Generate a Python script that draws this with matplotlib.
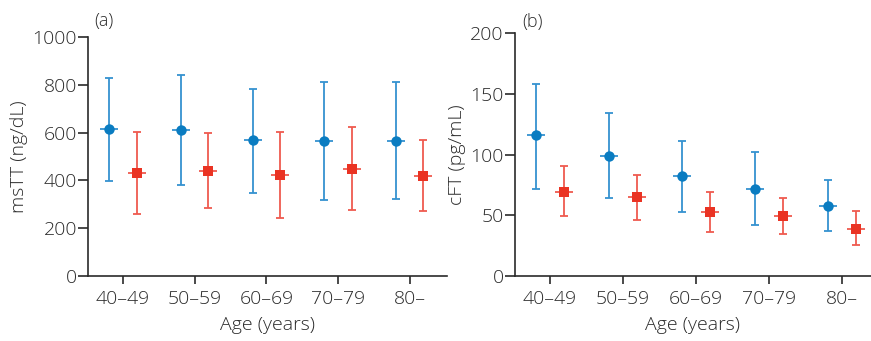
import matplotlib
matplotlib.use("Agg")
import matplotlib.pyplot as plt
import numpy as np

plt.rcParams['font.family'] = ['Open Sans', 'DejaVu Sans']
plt.rcParams['font.weight'] = 'light'
plt.rcParams['axes.labelweight'] = 'light'

categories = ["40\u201349", "50\u201359", "60\u201369", "70\u201379", "80\u2013"]

# Panel (a) msTT
a_blue_mean = [615, 609, 569, 563, 566]
a_blue_hi = [830, 841, 784, 812, 813]
a_blue_lo = [396, 381, 349, 318, 321]
a_red_mean = [432, 441, 424, 448, 420]
a_red_hi = [604, 600, 604, 622, 570]
a_red_lo = [259, 286, 244, 276, 271]

# Panel (b) cFT
b_blue_mean = [116, 99, 82, 72, 58]
b_blue_hi = [158.5, 134, 111.5, 102, 79.4]
b_blue_lo = [72, 64, 53, 42, 37]
b_red_mean = [69, 65, 53, 49.5, 38.7]
b_red_hi = [91, 83.5, 69, 64, 53.3]
b_red_lo = [49.5, 46.4, 36.5, 34.6, 25.5]

BLUE = '#0a7cc1'
BLUE_L = '#3592d0'
RED = '#ea3323'
RED_L = '#ef5a4f'
DARK = '#2a2a2a'

fig = plt.figure(figsize=(8.71, 3.41), dpi=100)
axA = fig.add_axes([88/871, 65/341, (447-88)/871, (276-37)/341])
axB = fig.add_axes([514.7/871, 65/341, (871-514.7)/871, (276-33.3)/341])

off = 0.19
FS = 14

def draw(ax, bm, bh, bl, rm, rh, rl):
    x = np.arange(len(categories))
    for xs, m, h, l, c, cl, mk, ms in [
        (x - off, bm, bh, bl, BLUE, BLUE_L, 'o', 7.5),
        (x + off, rm, rh, rl, RED, RED_L, 's', 7.8)]:
        m = np.array(m); h = np.array(h); l = np.array(l)
        ax.errorbar(xs, m, yerr=[m - l, h - m], fmt='none', ecolor=cl,
                    elinewidth=1.3, capsize=3.2, capthick=1.3, zorder=2)
        ax.plot(xs, m, linestyle='none', marker='_', markersize=13,
                markeredgewidth=1.3, color=cl, zorder=2)
        ax.plot(xs, m, linestyle='none', marker=mk, markersize=ms,
                color=c, markeredgewidth=0, zorder=3)
    ax.set_xticks(x)
    ax.set_xticklabels(categories)
    for s in ['top', 'right']:
        ax.spines[s].set_visible(False)
    for s in ['left', 'bottom']:
        ax.spines[s].set_color(DARK)
        ax.spines[s].set_linewidth(1.2)
    ax.tick_params(axis='y', direction='out', length=7, width=1.2,
                   color=DARK, labelcolor=DARK, labelsize=FS, pad=1)
    ax.tick_params(axis='x', direction='out', length=6, width=1.2,
                   color=DARK, labelcolor=DARK, labelsize=FS, pad=4)
    ax.set_xlabel("Age (years)", fontsize=FS, color=DARK, labelpad=6,
                  fontweight='light')

draw(axA, a_blue_mean, a_blue_hi, a_blue_lo, a_red_mean, a_red_hi, a_red_lo)
axA.set_xlim(-0.49, 4.52)
axA.set_ylim(0, 1000)
axA.set_yticks([0, 200, 400, 600, 800, 1000])
axA.set_ylabel("msTT (ng/dL)", fontsize=FS, color=DARK, labelpad=3,
               fontweight='light')
axA.text(0.018, 1.03, "(a)", transform=axA.transAxes, fontsize=13,
         color=DARK, va='bottom', ha='left', fontweight='light')

draw(axB, b_blue_mean, b_blue_hi, b_blue_lo, b_red_mean, b_red_hi, b_red_lo)
axB.set_xlim(-0.48, 4.4)
axB.set_ylim(0, 200)
axB.set_yticks([0, 50, 100, 150, 200])
axB.set_ylabel("cFT (pg/mL)", fontsize=FS, color=DARK, labelpad=3,
               fontweight='light')
axB.text(0.022, 1.01, "(b)", transform=axB.transAxes, fontsize=13,
         color=DARK, va='bottom', ha='left', fontweight='light')

fig.savefig("out.png", dpi=100)
